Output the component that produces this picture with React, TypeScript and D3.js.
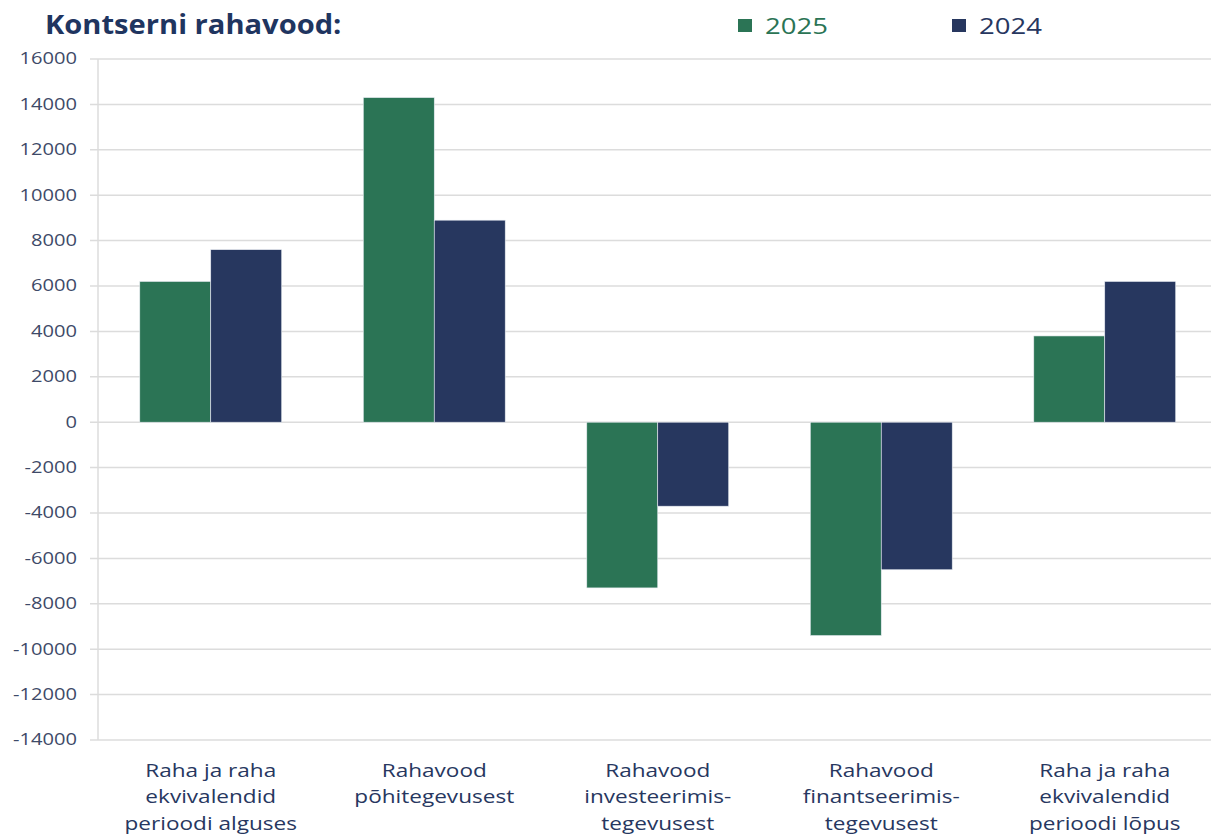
import React from "react";
import * as d3 from "d3";

const categories: string[][] = [
  ["Raha ja raha", "ekvivalendid", "perioodi alguses"],
  ["Rahavood", "põhitegevusest"],
  ["Rahavood", "investeerimis-", "tegevusest"],
  ["Rahavood", "finantseerimis-", "tegevusest"],
  ["Raha ja raha", "ekvivalendid", "perioodi lõpus"],
];
const values2025: number[] = [6200, 14300, -7300, -9400, 3800];
const values2024: number[] = [7600, 8900, -3700, -6500, 6200];
const seriesNames: string[] = ["2025", "2024"];
const yTicks: number[] = d3.range(-14000, 16001, 2000);

const W = 1211;
const H = 835;
const GREEN = "#2b7455";
const NAVY = "#27375f";
const TEXT = "#3e4a68";
const SX = 1.3;

export default function App() {
  const x = d3
    .scaleBand<number>()
    .domain(d3.range(categories.length))
    .range([99, 1216.5])
    .paddingInner(0.365)
    .paddingOuter(0.1825);
  const y = d3.scaleLinear().domain([-14000, 16000]).range([740, 59]);
  const sub = d3.scaleBand<string>().domain(seriesNames).range([0, x.bandwidth()]);
  const series = [values2025, values2024];
  const colors = [GREEN, NAVY];
  const font = "'Open Sans', sans-serif";

  return (
    <svg
      width={W}
      height={H}
      style={{ position: "absolute", left: 0, top: 0, background: "#fff" }}
    >
      <rect x={0} y={0} width={W} height={H} fill="#fff" />
      {/* gridlines */}
      {yTicks.map((t) => (
        <line
          key={t}
          x1={90}
          x2={W}
          y1={y(t)}
          y2={y(t)}
          stroke="#dcdcdc"
          strokeWidth={1.5}
        />
      ))}
      <line x1={98} x2={98} y1={y(16000)} y2={y(-14000)} stroke="#dcdcdc" strokeWidth={1.5} />
      {/* y tick labels */}
      {yTicks.map((t) => (
        <text
          key={"l" + t}
          transform={`translate(77,${y(t)}) scale(${SX},1)`}
          dy="0.35em"
          textAnchor="end"
          fontFamily={font}
          fontSize={15.5}
          fill={TEXT}
        >
          {t}
        </text>
      ))}
      {/* bars */}
      {series.map((vals, si) =>
        vals.map((v, i) => (
          <rect
            key={si + "-" + i}
            x={(x(i) as number) + (sub(seriesNames[si]) as number)}
            width={sub.bandwidth()}
            y={y(Math.max(0, v))}
            height={Math.abs(y(v) - y(0))}
            fill={colors[si]}
            stroke="#e8ecf2"
            strokeWidth={0.6}
          />
        ))
      )}
      {/* category labels */}
      {categories.map((lines, i) => (
        <text
          key={"c" + i}
          transform={`translate(${(x(i) as number) + x.bandwidth() / 2},777) scale(1.22,1)`}
          textAnchor="middle"
          fontFamily={font}
          fontSize={18.5}
          fill={NAVY}
        >
          {lines.map((ln, j) => (
            <tspan key={j} x={0} dy={j === 0 ? 0 : 26.5}>
              {ln}
            </tspan>
          ))}
        </text>
      ))}
      {/* title */}
      <text
        transform="translate(45,34) scale(1.12,1)"
        fontFamily={font}
        fontWeight="bold"
        fontSize={26}
        fill="#1f3560"
      >
        Kontserni rahavood:
      </text>
      {/* legend */}
      {seriesNames.map((s, i) => {
        const lx = i === 0 ? 738 : 952;
        return (
          <g key={s}>
            <rect x={lx} y={19} width={14} height={13} fill={colors[i]} />
            <text
              transform={`translate(${lx + 27},34) scale(1.25,1)`}
              fontFamily={font}
              fontSize={22}
              fill={colors[i]}
            >
              {s}
            </text>
          </g>
        );
      })}
    </svg>
  );
}
